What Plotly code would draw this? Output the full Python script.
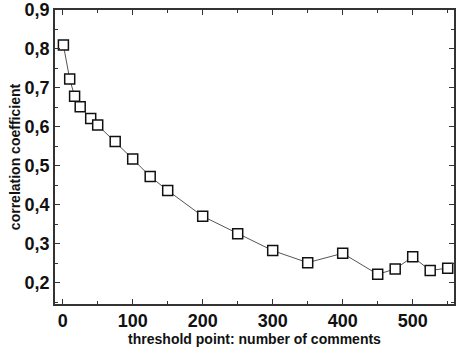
import plotly.graph_objects as go

threshold = [1, 10, 17, 25, 40, 50, 75, 100, 125, 150, 200, 250, 300, 350, 400, 450, 475, 500, 525, 550]
corr = [0.81, 0.723, 0.679, 0.652, 0.622, 0.605, 0.563, 0.518, 0.473, 0.437, 0.371, 0.326, 0.283, 0.252, 0.276, 0.222, 0.236, 0.267, 0.232, 0.238]

AXIS_COLOR = "#333333"
FONT = "Liberation Sans, Arial, sans-serif"
TICK_FONT = dict(family=FONT, size=18, color="#111111", weight="bold")
TITLE_FONT = dict(family=FONT, size=14, color="#111111", weight="bold")

fig = go.Figure()
fig.add_trace(
    go.Scatter(
        x=threshold, y=corr, mode="lines+markers",
        line=dict(color="#555555", width=1),
        marker=dict(symbol="square", size=10, color="white", line=dict(color="#111111", width=1.5)),
        showlegend=False,
    )
)

axis_common = dict(
    showgrid=False, zeroline=False, showline=True, linecolor=AXIS_COLOR, linewidth=1.5,
    mirror="ticks", ticks="inside", ticklen=5, tickwidth=1, tickcolor=AXIS_COLOR,
    tickfont=TICK_FONT, automargin=False,
)

fig.update_xaxes(
    range=[-11, 559], tick0=0, dtick=100,
    minor=dict(ticks="inside", ticklen=3, dtick=50, tickcolor=AXIS_COLOR),
    title=dict(text="threshold point: number of comments", standoff=3, font=TITLE_FONT),
    **axis_common,
)
fig.update_yaxes(
    range=[0.146, 0.9], tick0=0.2, dtick=0.1, tickformat=".1f",
    minor=dict(ticks="inside", ticklen=3, dtick=0.05, tickcolor=AXIS_COLOR),
    title=dict(text="correlation coefficient", standoff=1, font=TITLE_FONT),
    **axis_common,
)

fig.update_layout(
    width=458, height=348,
    margin=dict(l=55, r=4, t=10, b=44),
    plot_bgcolor="white", paper_bgcolor="white",
    separators=",.",
    font=dict(family=FONT),
)
# the page body has a default 8px margin; drop it so the figure fills the window
fig.write_html("out.html", config={"displayModeBar": False},
               post_script="document.body.style.margin='0';")
